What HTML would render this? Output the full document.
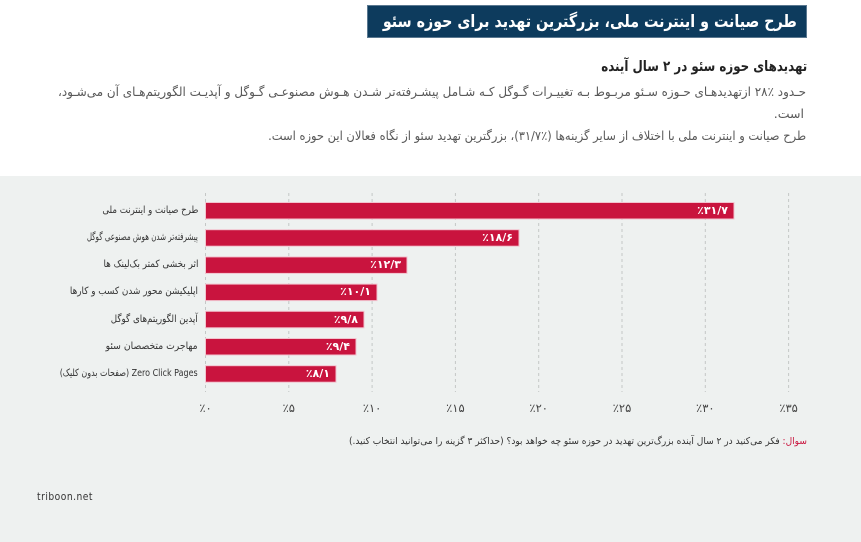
<!DOCTYPE html>
<html><head><meta charset="utf-8">
<style>
html,body{margin:0;padding:0;}
body{width:861px;height:542px;position:relative;overflow:hidden;background:#fff;font-family:"DejaVu Sans","Liberation Sans",sans-serif;}
.gray{position:absolute;left:0;top:176px;width:861px;height:366px;background:#eef1f0;}
.tbox{position:absolute;left:368px;top:6px;width:438px;height:31px;background:#0d3b5d;box-shadow:0 0 0 1px #5a7890;}
.t{position:absolute;white-space:nowrap;height:20px;line-height:20px;}
.t span{display:inline-block;transform-origin:right center;}
.r{direction:rtl;text-align:right;}
.lab{font-size:10px;color:#333;}
.val{color:#fff;font-size:11px;direction:ltr;font-weight:600;}
.val span{unicode-bidi:bidi-override;direction:ltr;}
.tick{position:absolute;width:60px;text-align:center;font-size:11.5px;color:#444;height:20px;line-height:20px;direction:ltr;}
.tick span{unicode-bidi:bidi-override;direction:ltr;}
svg{position:absolute;left:0;top:0;}
</style></head>
<body>
<div class="gray"></div>
<div class="tbox"></div>

<div class="t r" id="title" style="right:64px;top:12px;font-size:17px;font-weight:bold;color:#fff;"><span>طرح صیانت و اینترنت ملی، بزرگترین تهدید برای حوزه سئو</span></div>
<div class="t r" id="sub" style="right:54px;top:57px;font-size:14.5px;font-weight:bold;color:#222;"><span>تهدیدهای حوزه سئو در ۲ سال آینده</span></div>
<div class="t r" id="p1" style="right:55px;top:82px;font-size:12.5px;color:#585858;"><span>حـدود ٪۲۸ ازتهدیدهـای حـوزه سـئو مربـوط بـه تغییـرات گـوگل کـه شـامل پیشـرفته‌تر شـدن هـوش مصنوعـی گـوگل و آپدیـت الگوریتم‌هـای آن می‌شـود،</span></div>
<div class="t r" id="p2" style="right:57px;top:104px;font-size:12.5px;color:#585858;"><span>است.</span></div>
<div class="t r" id="p3" style="right:55px;top:126px;font-size:12.5px;color:#585858;"><span>طرح صیانت و اینترنت ملی با اختلاف از سایر گزینه‌ها (٪۳۱/۷)، بزرگترین تهدید سئو از نگاه فعالان این حوزه است.</span></div>

<svg width="861" height="542" viewBox="0 0 861 542">
  <g stroke="#c4c7c6" stroke-width="1" stroke-dasharray="3,3">
    <line x1="205.5" y1="193" x2="205.5" y2="392"/>
    <line x1="288.8" y1="193" x2="288.8" y2="392"/>
    <line x1="372.1" y1="193" x2="372.1" y2="392"/>
    <line x1="455.4" y1="193" x2="455.4" y2="392"/>
    <line x1="538.7" y1="193" x2="538.7" y2="392"/>
    <line x1="622" y1="193" x2="622" y2="392"/>
    <line x1="705.3" y1="193" x2="705.3" y2="392"/>
    <line x1="788.6" y1="193" x2="788.6" y2="392"/>
  </g>
  <g fill="#c9143e" stroke="#f2c4cf" stroke-width="1">
    <rect x="205.5" y="202.5" width="528.5" height="16.5"/>
    <rect x="205.5" y="229.7" width="313.5" height="16.5"/>
    <rect x="205.5" y="256.9" width="201.5" height="16.5"/>
    <rect x="205.5" y="284.1" width="171.5" height="16.5"/>
    <rect x="205.5" y="311.3" width="158.5" height="16.5"/>
    <rect x="205.5" y="338.5" width="150.5" height="16.5"/>
    <rect x="205.5" y="365.7" width="130.5" height="16.5"/>
  </g>
</svg>

<div class="t r lab" id="l1" style="right:663px;top:200.7px;"><span>طرح صیانت و اینترنت ملی</span></div>
<div class="t r lab" id="l2" style="right:663px;top:227.9px;"><span>پیشرفته‌تر شدن هوش مصنوعی گوگل</span></div>
<div class="t r lab" id="l3" style="right:663px;top:255.1px;"><span>اثر بخشی کمتر بک‌لینک ها</span></div>
<div class="t r lab" id="l4" style="right:663px;top:282.3px;"><span>اپلیکیشن محور شدن کسب و کارها</span></div>
<div class="t r lab" id="l5" style="right:663px;top:309.5px;"><span>آپدین الگوریتم‌های گوگل</span></div>
<div class="t r lab" id="l6" style="right:663px;top:336.7px;"><span>مهاجرت متخصصان سئو</span></div>
<div class="t r lab" id="l7" style="right:663px;top:363.9px;"><span>Zero Click Pages (صفحات بدون کلیک)</span></div>

<div class="t val" style="right:133px;top:200.7px;"><span>٪۳۱/۷</span></div>
<div class="t val" style="right:348px;top:227.9px;"><span>٪۱۸/۶</span></div>
<div class="t val" style="right:460px;top:255.1px;"><span>٪۱۲/۳</span></div>
<div class="t val" style="right:490px;top:282.3px;"><span>٪۱۰/۱</span></div>
<div class="t val" style="right:503px;top:309.5px;"><span>٪۹/۸</span></div>
<div class="t val" style="right:511px;top:336.7px;"><span>٪۹/۴</span></div>
<div class="t val" style="right:531px;top:363.9px;"><span>٪۸/۱</span></div>

<div class="tick" style="left:175.5px;top:398px;"><span>٪۰</span></div>
<div class="tick" style="left:258.8px;top:398px;"><span>٪۵</span></div>
<div class="tick" style="left:342.1px;top:398px;"><span>٪۱۰</span></div>
<div class="tick" style="left:425.4px;top:398px;"><span>٪۱۵</span></div>
<div class="tick" style="left:508.7px;top:398px;"><span>٪۲۰</span></div>
<div class="tick" style="left:592px;top:398px;"><span>٪۲۵</span></div>
<div class="tick" style="left:675.3px;top:398px;"><span>٪۳۰</span></div>
<div class="tick" style="left:758.6px;top:398px;"><span>٪۳۵</span></div>

<div class="t r" id="q" style="right:54px;top:432px;font-size:9.5px;color:#333;"><span><span style="color:#c9143e;">سوال:</span> فکر می‌کنید در ۲ سال آینده بزرگ‌ترین تهدید در حوزه سئو چه خواهد بود؟ (حداکثر ۳ گزینه را می‌توانید انتخاب کنید.)</span></div>

<div class="t" id="tri" style="left:37px;top:487px;font-size:11px;color:#333;letter-spacing:0.6px;"><span style="transform-origin:left center;">triboon.net</span></div>

<script>
(function(){
  var targets={title:414,sub:206,p1:748,p3:538,q:458,tri:56,l1:96,l2:111,l3:95,l4:128,l5:87,l6:92,l7:138};
  for(var id in targets){
    var el=document.getElementById(id); if(!el) continue;
    var sp=el.firstElementChild;
    var w=sp.getBoundingClientRect().width;
    if(w>0){ sp.style.transform='scaleX('+(targets[id]/w)+')'; }
  }
})();
</script>
</body></html>
